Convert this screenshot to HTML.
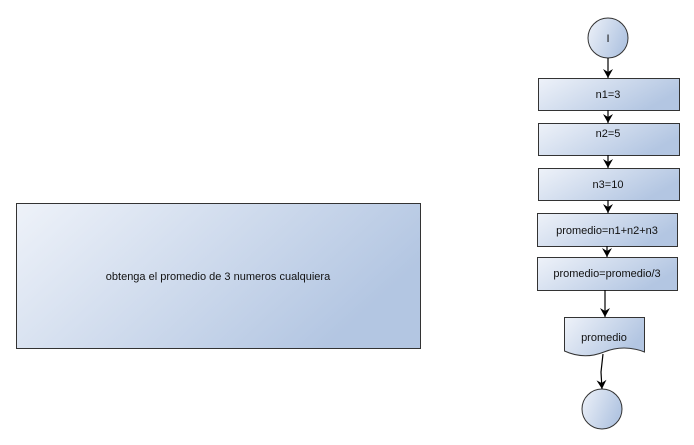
<!DOCTYPE html>
<html><head><style>body{margin:0;background:#fff}svg{display:block}text{font-family:"Liberation Sans",sans-serif;font-size:11px;fill:#111}</style></head><body>
<svg width="694" height="445" viewBox="0 0 694 445">
<defs>
<linearGradient id="g" x1="0" y1="0" x2="1" y2="0.4"><stop offset="0" stop-color="#eef2f9"/><stop offset="1" stop-color="#b3c6e2"/></linearGradient>
<marker id="a" markerWidth="10" markerHeight="10" refX="9" refY="5" orient="auto" markerUnits="userSpaceOnUse"><path d="M0,0 L9,5 L0,10 L3,5 Z" fill="#000"/></marker>
</defs>
<g stroke="#333" stroke-width="1" fill="url(#g)">
<rect x="16.5" y="203.5" width="404" height="145"/>
<circle cx="608" cy="38" r="20"/>
<rect x="538.5" y="78.5" width="141" height="32"/>
<rect x="538.5" y="123.5" width="141" height="32"/>
<rect x="538.5" y="168.5" width="141" height="32"/>
<rect x="537.5" y="213.5" width="140" height="33"/>
<rect x="537.5" y="257.5" width="140" height="33"/>
<path d="M564.5,317.5 H644.5 V352 Q624,344 604,352 T564.5,351 Z"/>
<circle cx="602" cy="409" r="20"/>
</g>
<g stroke="#000" stroke-width="1.2" fill="none">
<line x1="608" y1="58" x2="608" y2="78" marker-end="url(#a)"/>
<line x1="608" y1="110" x2="608" y2="123" marker-end="url(#a)"/>
<line x1="608" y1="155" x2="608" y2="168" marker-end="url(#a)"/>
<line x1="608" y1="200" x2="608" y2="213" marker-end="url(#a)"/>
<line x1="607" y1="246" x2="607" y2="257" marker-end="url(#a)"/>
<line x1="605" y1="290" x2="605" y2="317" marker-end="url(#a)"/>
<path d="M603,354 L601,372 L602,389" marker-end="url(#a)"/>
</g>
<g text-anchor="middle">
<text x="218" y="280">obtenga el promedio de 3 numeros cualquiera</text>
<text x="608" y="42">I</text>
<text x="608" y="98">n1=3</text>
<text x="608" y="137">n2=5</text>
<text x="608" y="188">n3=10</text>
<text x="607" y="234">promedio=n1+n2+n3</text>
<text x="607" y="277">promedio=promedio/3</text>
<text x="604" y="341">promedio</text>
</g>
</svg>
</body></html>
